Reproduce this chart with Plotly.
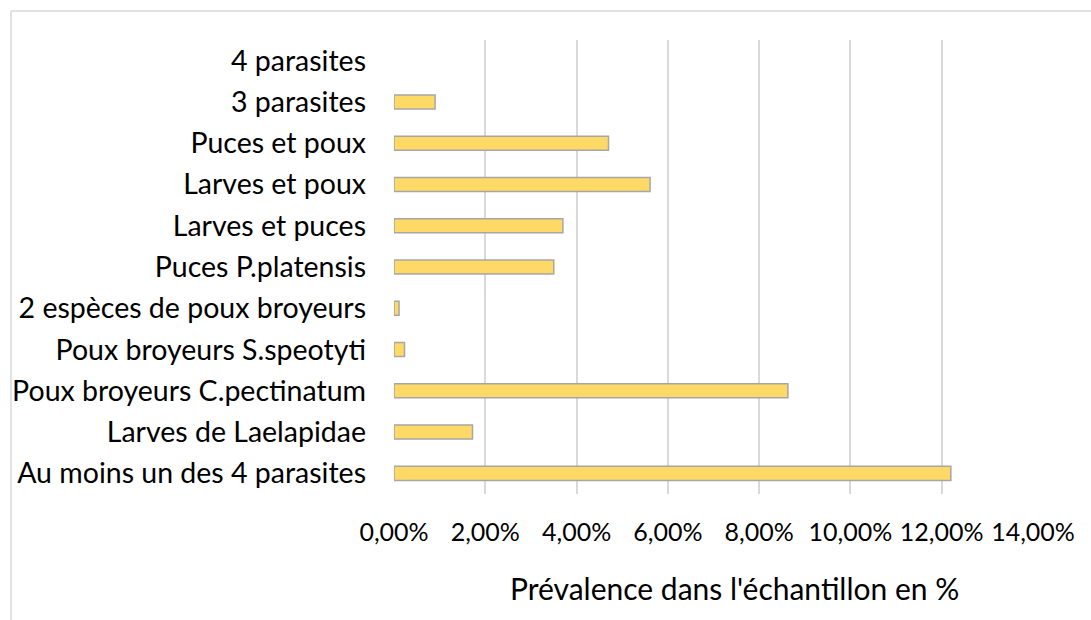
import plotly.graph_objects as go

# Parasite categories (bottom to top) and their prevalence in the sample, in %
categories = [
    "Au moins un des 4 parasites",
    "Larves de Laelapidae",
    "Poux broyeurs C.pectinatum",
    "Poux broyeurs S.speotyti",
    "2 espèces de poux broyeurs",
    "Puces P.platensis",
    "Larves et puces",
    "Larves et poux",
    "Puces et poux",
    "3 parasites",
    "4 parasites",
]
prevalence = [12.20, 1.72, 8.63, 0.23, 0.11, 3.50, 3.70, 5.61, 4.70, 0.90, 0.0]

x_ticks = [0, 2, 4, 6, 8, 10, 12, 14]
x_tick_text = [f"{v:.2f}".replace(".", ",") + "%" for v in x_ticks]

W, H = 1091, 620
L, R, T, B = 394, 58, 40, 126
FONT = "Lato, Carlito, 'Liberation Sans', sans-serif"

# zero-valued bars get no outline so nothing is drawn for them
outline_widths = [1.5 if v > 0 else 0 for v in prevalence]

fig = go.Figure(
    go.Bar(
        y=categories,
        x=prevalence,
        orientation="h",
        width=0.34,
        marker=dict(color="#FFD966",
                    line=dict(color="#A6A6A6", width=outline_widths)),
        hoverinfo="x+y",
    )
)


def px_x(p):
    return (p - L) / (W - L - R)


def px_y(p):
    return 1 - (p - T) / (H - T - B)


fig.update_layout(
    width=W,
    height=H,
    margin=dict(l=L, r=R, t=T, b=B, pad=0),
    paper_bgcolor="white",
    plot_bgcolor="white",
    showlegend=False,
    font=dict(family=FONT, color="#000000"),
    xaxis=dict(
        range=[0, 14],
        tickvals=x_ticks,
        ticktext=x_tick_text,
        showgrid=True,
        gridcolor="#D9D9D9",
        gridwidth=1.5,
        zeroline=False,
        showline=False,
        ticks="",
        tickfont=dict(size=25, family=FONT),
        ticklabelstandoff=21,
        fixedrange=True,
    ),
    yaxis=dict(
        categoryorder="array",
        categoryarray=categories,
        showgrid=False,
        zeroline=False,
        showline=False,
        ticks="",
        tickfont=dict(size=28.5, family=FONT),
        ticklabelstandoff=27,
        fixedrange=True,
    ),
    annotations=[
        dict(text="Prévalence dans l'échantillon en %",
             xref="paper", yref="paper",
             x=px_x(734.5), y=px_y(588),
             xanchor="center", yanchor="middle",
             showarrow=False,
             font=dict(size=30, family=FONT, color="#000000")),
    ],
    shapes=[
        # chart area frame (top and left edges visible)
        dict(type="line", xref="paper", yref="paper",
             x0=px_x(11), x1=px_x(W + 5), y0=px_y(11), y1=px_y(11),
             line=dict(color="#D9D9D9", width=1.5)),
        dict(type="line", xref="paper", yref="paper",
             x0=px_x(11), x1=px_x(11), y0=px_y(11), y1=px_y(H + 5),
             line=dict(color="#D9D9D9", width=1.5)),
    ],
)

fig.write_html("out.html")
